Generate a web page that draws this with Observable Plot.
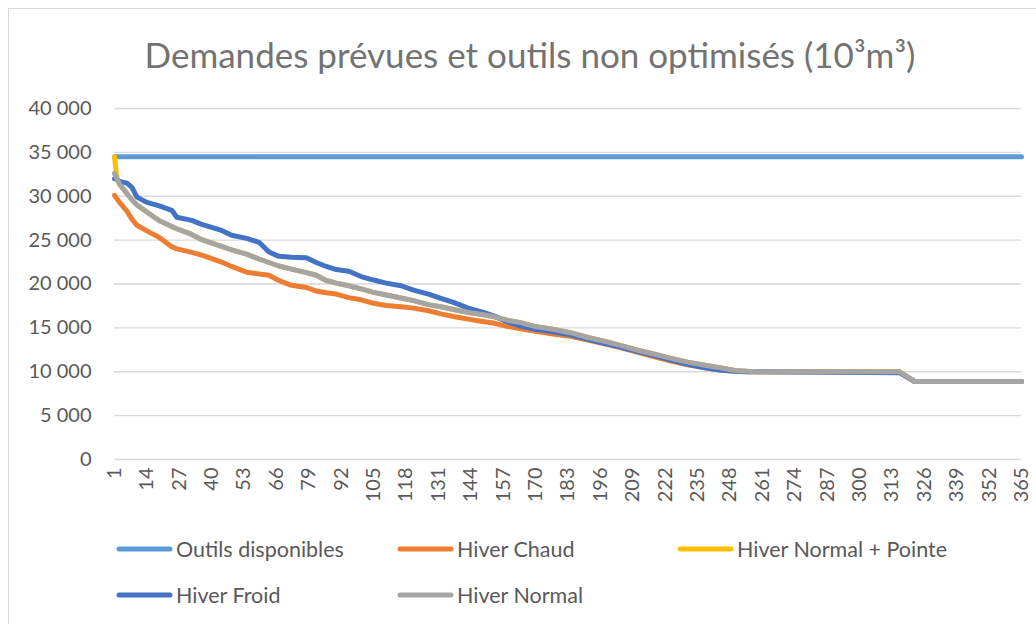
<!DOCTYPE html>
<html><head><meta charset="utf-8">
<script src="https://cdn.jsdelivr.net/npm/d3@7"></script>
<script src="https://cdn.jsdelivr.net/npm/@observablehq/plot@0.6"></script>
<style>
body{margin:0;background:#fff;font-family:Lato, sans-serif;}
#wrap{position:relative;width:1036px;height:624px;overflow:hidden;background:#fff;}
#frame{position:absolute;left:8px;top:8px;width:1100px;height:700px;border:1px solid #d9d9d9;}
#title{position:absolute;left:0;width:1060px;top:33px;text-align:center;font-size:35px;color:#737373;white-space:nowrap;}
#chart{position:absolute;left:0;top:90px;}
.item{position:absolute;display:flex;align-items:center;font-size:21.5px;color:#595959;height:30px;white-space:nowrap;}
.item svg{margin-right:3px;}
</style></head>
<body>
<div id="wrap">
  <div id="frame"></div>
  <div id="title">Demandes prévues et outils non optimisés (10³m³)</div>
  <div id="chart"></div>
  <div id="legend"></div>
</div>
<script>
// ---- data ----
const seriesNames = ["Outils disponibles", "Hiver Chaud", "Hiver Normal + Pointe", "Hiver Froid", "Hiver Normal"];
const seriesColors = ["#5B9BD5", "#ED7D31", "#FFC000", "#4472C4", "#A5A5A5"];
const xTicks = [1,14,27,40,53,66,79,92,105,118,131,144,157,170,183,196,209,222,235,248,261,274,287,300,313,326,339,352,365];
const yTicks = [0,5000,10000,15000,20000,25000,30000,35000,40000];

const outilsDays = [1, 365];
const outilsValues = [34500, 34500];

const days = [1,2,3,6,8,10,14,19,24,26,32,36,44,48,54,59,63,67,72,78,82,86,90,95,100,105,110,116,121,127,132,137,143,148,153,159,164,170,177,184,191,198,204,211,217,224,231,238,244,250,255,260,316,322,365];

const hiverChaud = [30100,29700,29300,28300,27400,26700,26050,25300,24250,24000,23600,23300,22500,22000,21350,21150,21000,20400,19850,19600,19200,19000,18850,18450,18200,17800,17550,17400,17250,16950,16600,16300,16000,15750,15550,15150,14900,14600,14300,14050,13600,13150,12750,12200,11750,11250,10800,10450,10200,10050,10000,10000,10000,8900,8900];

const hiverPointe = [34500,32000,31400,30300,29600,29000,28200,27200,26550,26300,25650,25050,24300,23900,23400,22850,22450,22050,21700,21300,21000,20400,20100,19800,19450,19050,18750,18400,18100,17650,17400,17100,16750,16550,16300,15850,15600,15150,14850,14450,13900,13450,13000,12450,12050,11550,11100,10750,10450,10150,10050,10000,10000,8900,8900];

const hiverFroid = [32000,31900,31700,31500,31000,29900,29300,28900,28400,27600,27250,26800,26100,25550,25200,24750,23650,23150,23050,23000,22450,22000,21650,21450,20850,20450,20100,19800,19300,18850,18350,17900,17250,16850,16400,15650,15200,14850,14550,14200,13700,13200,12800,12300,11900,11350,10850,10450,10200,10050,10000,10000,9900,8900,8900];

const hiverNormal = [32600,32000,31400,30300,29600,29000,28200,27200,26550,26300,25650,25050,24300,23900,23400,22850,22450,22050,21700,21300,21000,20400,20100,19800,19450,19050,18750,18400,18100,17650,17400,17100,16750,16550,16300,15850,15600,15150,14850,14450,13900,13450,13000,12450,12050,11550,11100,10750,10450,10150,10050,10000,10000,8900,8900];

// ---- build table ----
const seriesData = [
  outilsDays.map((d, i) => ({day: d, value: outilsValues[i], series: seriesNames[0]})),
  days.map((d, i) => ({day: d, value: hiverChaud[i], series: seriesNames[1]})),
  days.map((d, i) => ({day: d, value: hiverPointe[i], series: seriesNames[2]})),
  days.map((d, i) => ({day: d, value: hiverFroid[i], series: seriesNames[3]})),
  days.map((d, i) => ({day: d, value: hiverNormal[i], series: seriesNames[4]}))
];

const fmt = d => d3.format(",")(d).replace(/,/g, " ");

const chart = Plot.plot({
  width: 1036, height: 420,
  marginLeft: 114, marginRight: 15, marginTop: 18, marginBottom: 51,
  style: {fontFamily: "Lato, sans-serif", fontSize: "20px", color: "#595959", background: "transparent", overflow: "visible"},
  x: {type: "linear", domain: [1, 365]},
  y: {domain: [0, 40000]},
  marks: [
    Plot.gridY(yTicks, {stroke: "#d9d9d9", strokeOpacity: 1, strokeWidth: 1.3}),
    Plot.axisY(yTicks, {tickSize: 0, tickPadding: 23, tickFormat: fmt, label: null, fontSize: 20}),
    Plot.axisX(xTicks, {tickSize: 0, tickPadding: 8, tickRotate: -90, label: null, fontSize: 20}),
    ...seriesData.map((data, i) => Plot.line(data, {
      x: "day", y: "value", stroke: seriesColors[i], strokeWidth: 5,
      strokeLinecap: "round", strokeLinejoin: "round"
    }))
  ]
});
document.getElementById("chart").appendChild(chart);

// ---- legend ----
const legendCols = [116, 397, 677];
const legendRows = [549, 595];
const legend = document.getElementById("legend");
seriesNames.forEach((name, i) => {
  const col = i % 3, row = Math.floor(i / 3);
  const item = document.createElement("div");
  item.className = "item";
  item.style.left = legendCols[col] + "px";
  item.style.top = (legendRows[row] - 15) + "px";
  item.innerHTML = `<svg width="57" height="10"><line x1="3" y1="5" x2="54" y2="5" stroke="${seriesColors[i]}" stroke-width="5" stroke-linecap="round"/></svg><span>${name}</span>`;
  legend.appendChild(item);
});
</script>
</body></html>
